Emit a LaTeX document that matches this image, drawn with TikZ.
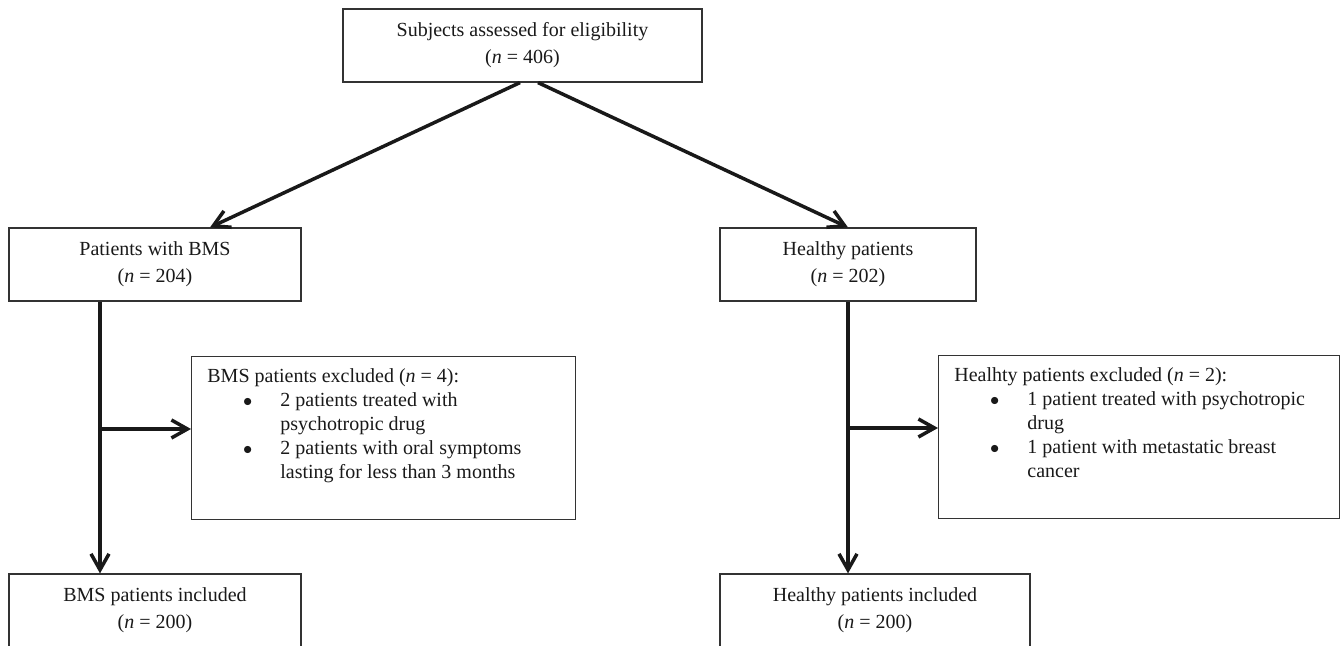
\documentclass[tikz,border=0pt]{standalone}
\usepackage{fontspec}
\setmainfont{Liberation Serif}
\usetikzlibrary{arrows.meta}
\newcommand{\bul}{\makebox[36.5pt][l]{\hspace*{17.8pt}{\small$\bullet$}}}
\newcommand{\ind}{\hspace*{36.5pt}}

\begin{document}
\begin{tikzpicture}[x=.5pt,y=-.5pt,
    box/.style={draw=black!80,line width=.6pt,minimum height=36.5pt,align=center,
      text=black!90,font=\fontsize{10}{13.5}\selectfont,inner sep=0pt},
    exbox/.style={draw=black!80,line width=.6pt,anchor=north west,minimum height=81.5pt,inner sep=0pt},
    extext/.style={anchor=north west,align=left,inner sep=0pt,text=black!90,
      font=\fontsize{10}{12}\selectfont},
    flow/.style={line width=1.75pt,black!90,-{Straight Barb[length=8pt,width=9pt]}}]
  \useasboundingbox (0,0) rectangle (1341,646);
  \clip (0,0) rectangle (1341,646);
  % boxes
  \node[box,minimum width=179.5pt] (subj) at (522.5,45.5) {Subjects assessed for eligibility\\(\textit{n} = 406)};
  \node[box,minimum width=146pt] (bms) at (155,264.5) {Patients with BMS\\(\textit{n} = 204)};
  \node[box,minimum width=128pt] (hlth) at (848,264.5) {Healthy patients\\(\textit{n} = 202)};
  \node[exbox,minimum width=192pt] (bmsx) at (191,356) {};
  \node[exbox,minimum width=200.5pt] (hlthx) at (938,355) {};
  \node[box,minimum width=146pt] (bmsin) at (155,610.5) {BMS patients included\\(\textit{n} = 200)};
  \node[box,minimum width=155pt] (hlthin) at (875,610.5) {Healthy patients included\\(\textit{n} = 200)};
  % exclusion texts
  \node[extext] (bmsxt) at ([shift={(16,12)}]bmsx.north west) {BMS patients excluded (\textit{n} = 4):\\
    \bul 2 patients treated with\\ \ind psychotropic drug\\
    \bul 2 patients with oral symptoms\\ \ind lasting for less than 3 months};
  \node[extext] (hlthxt) at ([shift={(16,12)}]hlthx.north west) {Healhty patients excluded (\textit{n} = 2):\\
    \bul 1 patient treated with psychotropic\\ \ind drug\\
    \bul 1 patient with metastatic breast\\ \ind cancer};
  % arrows
  \coordinate (lsplit) at (100,429);
  \coordinate (rsplit) at (848,428);
  \draw[flow] ([shift={(-2.5,0)}]subj.south) -- ([shift={(55,0)}]bms.north);
  \draw[flow] ([shift={(15.5,0)}]subj.south) -- (hlth.north);
  \draw[flow] (bms.south -| lsplit) -- (bmsin.north -| lsplit);
  \draw[flow] (lsplit) -- (lsplit -| bmsx.west);
  \draw[flow] (hlth.south) -- (hlth.south |- hlthin.north);
  \draw[flow] (rsplit) -- (rsplit -| hlthx.west);
\end{tikzpicture}
\end{document}
